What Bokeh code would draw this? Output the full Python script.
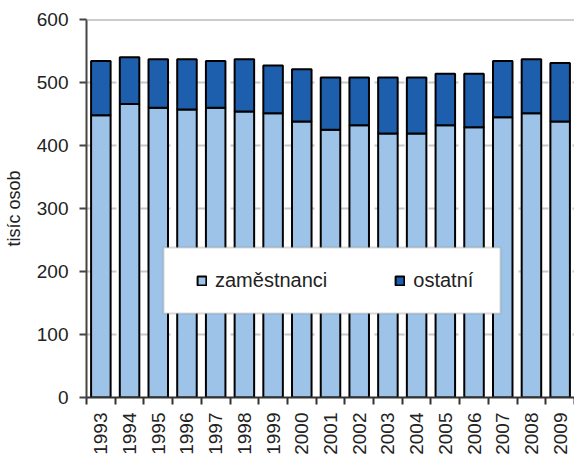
from bokeh.plotting import figure
from bokeh.models import Range1d, FixedTicker, Span, Legend, LegendItem, ColumnDataSource, BoxAnnotation
from bokeh.embed import file_html
from bokeh.resources import INLINE

years = ["1993", "1994", "1995", "1996", "1997", "1998", "1999", "2000", "2001",
         "2002", "2003", "2004", "2005", "2006", "2007", "2008", "2009"]
total = [534, 540, 537, 537, 534, 537, 527, 521, 508, 508, 508, 508, 514, 514, 534, 537, 531]
zamestnanci = [448, 466, 460, 457, 460, 454, 451, 438, 425, 432, 419, 419, 432, 429, 445, 451, 438]
y_ticks = [0, 100, 200, 300, 400, 500, 600]

xs = list(range(len(years)))
src = ColumnDataSource(dict(x=xs, z=zamestnanci, t=total))

FONT = "Liberation Sans"
LIGHT = "#9dc4e8"
DARK = "#1e5fad"

p = figure(width=574, height=458, output_backend="svg", toolbar_location=None,
           x_range=Range1d(-0.5, len(years) - 0.5), y_range=Range1d(0, 600),
           min_border_left=79, min_border_right=0, min_border_top=19, min_border_bottom=61)
p.outline_line_color = None
p.background_fill_color = "white"
p.border_fill_color = "white"

r1 = p.vbar(x="x", top="z", bottom=0, width=0.68, source=src,
            fill_color=LIGHT, line_color="black", line_width=2)
r2 = p.vbar(x="x", top="t", bottom="z", width=0.68, source=src,
            fill_color=DARK, line_color="black", line_width=2)

p.add_layout(Span(location=600, dimension="width", line_color="#999999", line_width=2))

# axes
p.xgrid.grid_line_color = None
p.ygrid.ticker = FixedTicker(ticks=[100, 200, 300, 400, 500])
p.ygrid.grid_line_color = "#c8c8c8"
p.ygrid.grid_line_width = 2
p.ygrid.grid_line_dash = "12 6"

p.xaxis.ticker = FixedTicker(ticks=xs, minor_ticks=[i - 0.5 for i in range(len(years) + 1)])
p.xaxis.major_label_overrides = {i: y for i, y in enumerate(years)}
p.xaxis.major_label_orientation = 1.5708
p.xaxis.major_tick_line_color = None
p.xaxis.major_tick_out = 7
p.xaxis.minor_tick_line_color = "#333333"
p.xaxis.minor_tick_line_width = 2
p.xaxis.minor_tick_out = 7
p.xaxis.minor_tick_in = 0
p.xaxis.axis_line_color = "#333333"
p.xaxis.axis_line_width = 2
p.xaxis.major_label_text_font = FONT
p.xaxis.major_label_text_font_size = "19px"
p.xaxis.major_label_text_color = "#222222"
p.xaxis.major_label_standoff = 8

p.yaxis.ticker = FixedTicker(ticks=y_ticks)
p.yaxis.minor_tick_line_color = None
p.yaxis.major_tick_out = 7
p.yaxis.major_tick_in = 0
p.yaxis.major_tick_line_color = "#444444"
p.yaxis.major_tick_line_width = 2
p.yaxis.axis_line_color = "#444444"
p.yaxis.axis_line_width = 2
p.yaxis.major_label_text_font = FONT
p.yaxis.major_label_text_font_size = "19px"
p.yaxis.major_label_text_color = "#222222"
p.yaxis.major_label_standoff = 11
p.yaxis.axis_label = "tisíc osob"
p.yaxis.axis_label_text_font = FONT
p.yaxis.axis_label_text_font_size = "18px"
p.yaxis.axis_label_text_font_style = "normal"
p.yaxis.axis_label_text_color = "#222222"
p.yaxis.axis_label_standoff = 10

# legend frame (screen units: x from frame left, y up from frame bottom)
p.add_layout(BoxAnnotation(left=77, right=414, top=150, bottom=84,
                           left_units="screen", right_units="screen",
                           top_units="screen", bottom_units="screen",
                           fill_color="white", fill_alpha=1,
                           line_color="#7f7f7f", line_width=2, level="annotation"))

legend = Legend(items=[LegendItem(label="zaměstnanci", renderers=[r1]),
                       LegendItem(label="ostatní", renderers=[r2])],
                orientation="horizontal", location=(110, 105))
legend.label_text_font = FONT
legend.label_text_font_size = "20px"
legend.label_text_color = "#222222"
legend.glyph_width = 11
legend.glyph_height = 11
legend.label_standoff = 8
legend.spacing = 67
legend.padding = 21
legend.margin = 0
legend.border_line_color = None
legend.background_fill_alpha = 0
p.add_layout(legend, "center")

open("out.html", "w").write(file_html(p, INLINE))
